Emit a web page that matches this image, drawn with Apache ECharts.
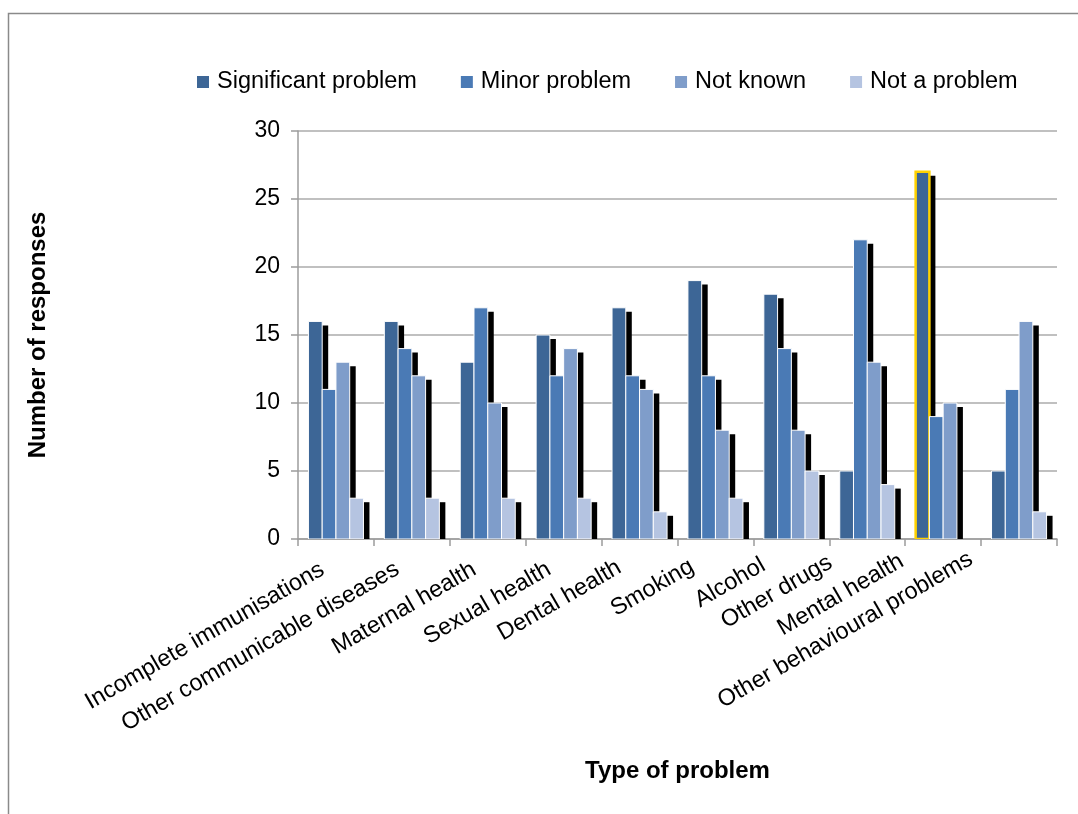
<!DOCTYPE html>
<html>
<head>
<meta charset="utf-8">
<title>Type of problem – number of responses</title>
<script src="https://cdn.jsdelivr.net/npm/echarts@6/dist/echarts.min.js"></script>
<style>
  html, body { margin: 0; padding: 0; background: #fff; }
  #chart { width: 1078px; height: 814px; }
</style>
</head>
<body>
<div id="chart"></div>
<script>
// Problem categories along the x axis
const categories = [
  'Incomplete immunisations',
  'Other communicable diseases',
  'Maternal health',
  'Sexual health',
  'Dental health',
  'Smoking',
  'Alcohol',
  'Other drugs',
  'Mental health',
  'Other behavioural problems'
];

// Number of responses per rating
const significantProblem = [16, 16, 13, 15, 17, 19, 18, 5, 27, 5];
const minorProblem       = [11, 14, 17, 12, 12, 12, 14, 22, 9, 11];
const notKnown           = [13, 12, 10, 14, 11, 8, 8, 13, 10, 16];
const notAProblem        = [3, 3, 3, 3, 2, 3, 5, 4, 0, 2];

const seriesNames = ['Significant problem', 'Minor problem', 'Not known', 'Not a problem'];
const yTicks = [0, 5, 10, 15, 20, 25, 30];

// The single bar outlined in gold
const highlightSeries = 'Significant problem';
const highlightCategory = 'Mental health';

const seriesValues = [significantProblem, minorProblem, notKnown, notAProblem];
const colors = ['#3D6696', '#4A7AB5', '#7F9DCA', '#B5C4E1'];
const CATEGORY_GAP = 0.275;
const SHADOW_DX = 6;
const SHADOW_DY = 4;
const FONT = '"Liberation Sans", Arial, Helvetica, sans-serif';

// Leftward nudge (px) of each rotated category label
const labelShift = [12, 13, 12, 13, 18, 21, 25, 33, 37, 43];

// Bars are drawn as custom rects so their drop shadows are clipped at the plot area
function makeRenderItem(sIdx) {
  return function (params, api) {
    const cat = api.value(0);
    const val = api.value(1);
    if (!val) return null;
    const base = api.coord([cat, 0]);
    const top = api.coord([cat, val]);
    const band = api.size([1, 0])[0];
    const groupW = band * (1 - CATEGORY_GAP);
    const barW = groupW / seriesNames.length;
    const x = base[0] - groupW / 2 + sIdx * barW;
    const h = base[1] - top[1];
    const hl = seriesNames[sIdx] === highlightSeries && categories[cat] === highlightCategory;
    return {
      type: 'group',
      children: [{
        type: 'rect',
        shape: { x: x + SHADOW_DX, y: top[1] + SHADOW_DY, width: barW, height: h },
        style: { fill: '#000000' }
      }, {
        type: 'rect',
        shape: { x: x, y: top[1], width: barW, height: h },
        style: {
          fill: colors[sIdx],
          stroke: hl ? '#FFD200' : '#ffffff',
          lineWidth: hl ? 2.5 : 1
        }
      }]
    };
  };
}

// Per-label rich styles: right + bottom padding slides a 30° label to the left
const labelRich = {};
labelShift.forEach(function (d, i) {
  labelRich['c' + i] = {
    fontSize: 23.5,
    color: '#000',
    fontFamily: FONT,
    padding: [0, d * 0.8, d * 1.7, 0]
  };
});

const chart = echarts.init(document.getElementById('chart'), null, { renderer: 'canvas' });

chart.setOption({
  animation: false,
  backgroundColor: '#ffffff',
  textStyle: { fontFamily: FONT },
  graphic: [{
    type: 'rect',
    silent: true,
    shape: { x: 8.5, y: 13.5, width: 1200, height: 1000 },
    style: { fill: 'none', stroke: '#8a8a8a', lineWidth: 1.5 }
  }],
  legend: {
    left: 192,
    top: 65,
    icon: 'rect',
    itemWidth: 12,
    itemHeight: 12,
    itemGap: 44,
    textStyle: { fontSize: 23.5, color: '#000', fontFamily: FONT, padding: [0, 0, 0, 3] },
    data: seriesNames
  },
  grid: { left: 298, right: 21, top: 131, bottom: 275, containLabel: false },
  xAxis: {
    type: 'category',
    data: categories,
    boundaryGap: true,
    name: 'Type of problem',
    nameLocation: 'middle',
    nameGap: 220,
    nameTextStyle: { fontSize: 24, fontWeight: 'bold', color: '#000', fontFamily: FONT },
    axisLine: { lineStyle: { color: '#9c9c9c', width: 1.5 } },
    axisTick: { show: true, length: 7, lineStyle: { color: '#9c9c9c', width: 1.5 } },
    axisLabel: {
      interval: 0,
      rotate: 30,
      margin: 33,
      fontSize: 23.5,
      color: '#000',
      fontFamily: FONT,
      formatter: function (value, index) { return '{c' + index + '|' + value + '}'; },
      rich: labelRich
    }
  },
  yAxis: {
    type: 'value',
    min: yTicks[0],
    max: yTicks[yTicks.length - 1],
    interval: yTicks[1] - yTicks[0],
    name: 'Number of responses',
    nameLocation: 'middle',
    nameGap: 248,
    nameTextStyle: { fontSize: 24, fontWeight: 'bold', color: '#000', fontFamily: FONT },
    axisLine: { show: true, lineStyle: { color: '#9c9c9c', width: 1.5 } },
    axisTick: { show: true, length: 7, lineStyle: { color: '#9c9c9c', width: 1.5 } },
    axisLabel: { margin: 18, fontSize: 23, color: '#000', fontFamily: FONT },
    splitLine: { show: true, lineStyle: { color: '#ababab', width: 1.5 } }
  },
  series: seriesNames.map(function (name, sIdx) {
    return {
      name: name,
      type: 'custom',
      clip: true,
      itemStyle: { color: colors[sIdx] },
      encode: { x: 0, y: 1 },
      renderItem: makeRenderItem(sIdx),
      data: seriesValues[sIdx].map(function (v, i) { return [i, v]; })
    };
  })
});
</script>
</body>
</html>
